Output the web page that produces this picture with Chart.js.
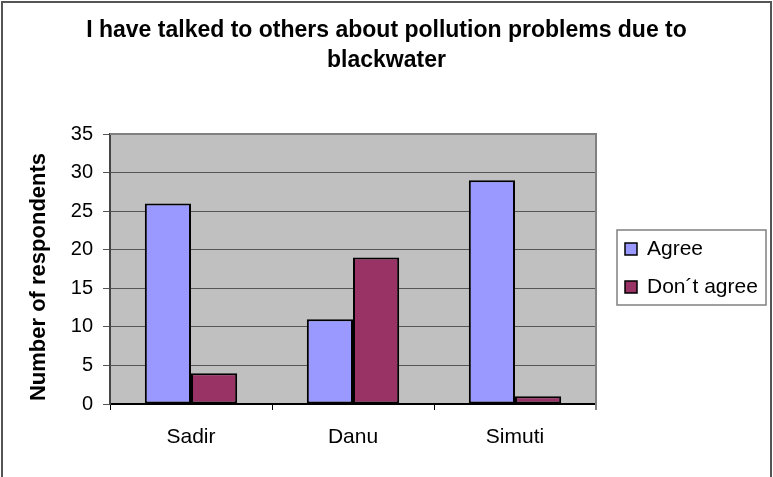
<!DOCTYPE html>
<html>
<head>
<meta charset="utf-8">
<script src="https://cdn.jsdelivr.net/npm/chart.js@4"></script>
<style>
  html, body { margin: 0; padding: 0; background: #fff; }
  #wrap { width: 773px; height: 477px; }
</style>
</head>
<body>
<div id="wrap"><canvas id="c" width="773" height="477"></canvas></div>
<script>
const categories = ['Sadir', 'Danu', 'Simuti'];
const agree = [26, 11, 29];
const dontAgree = [4, 19, 1];
const yTicks = [0, 5, 10, 15, 20, 25, 30, 35];
const seriesNames = ['Agree', 'Don\u00b4t agree'];
const titleLines = ['I have talked to others about pollution problems due to', 'blackwater'];
const yTitle = 'Number of respondents';

const FONT = '"Liberation Sans", Arial, sans-serif';
const AGREE_COLOR = '#9999FF';
const DISAGREE_COLOR = '#993366';

// Frame, plot background, titles and boxed legend
const decor = {
  id: 'decor',
  beforeDraw(chart) {
    const { ctx, chartArea: a } = chart;
    ctx.save();
    ctx.fillStyle = '#fff';
    ctx.fillRect(0, 0, chart.width, chart.height);
    ctx.fillStyle = '#C0C0C0';
    ctx.fillRect(a.left, a.top, a.right - a.left, a.bottom - a.top);
    // outer frame (left, top, right)
    ctx.strokeStyle = '#555';
    ctx.lineWidth = 2;
    ctx.beginPath();
    ctx.moveTo(2, chart.height);
    ctx.lineTo(2, 2);
    ctx.lineTo(chart.width - 2, 2);
    ctx.lineTo(chart.width - 2, chart.height);
    ctx.stroke();
    ctx.restore();
  },
  beforeDatasetsDraw(chart) {
    const { ctx, chartArea: a } = chart;
    ctx.save();
    ctx.strokeStyle = '#808080';
    ctx.lineWidth = 2;
    ctx.beginPath();
    ctx.moveTo(a.left, a.top);
    ctx.lineTo(a.right, a.top);
    ctx.lineTo(a.right, a.bottom + 6);
    ctx.stroke();
    ctx.restore();
  },
  afterDraw(chart) {
    const { ctx } = chart;
    ctx.save();
    ctx.fillStyle = '#000';
    ctx.textBaseline = 'middle';

    // chart title
    ctx.font = 'bold 23px ' + FONT;
    ctx.textAlign = 'center';
    titleLines.forEach((t, i) => ctx.fillText(t, chart.width / 2, 31 + i * 30));

    // value axis title
    ctx.save();
    ctx.translate(39, 277);
    ctx.rotate(-Math.PI / 2);
    ctx.font = 'bold 22px ' + FONT;
    ctx.fillText(yTitle, 0, 0);
    ctx.restore();

    // legend
    const bx = 617, by = 230, bw = 149, bh = 75;
    ctx.strokeStyle = '#808080';
    ctx.lineWidth = 1.5;
    ctx.strokeRect(bx, by, bw, bh);
    ctx.font = '21px ' + FONT;
    ctx.textAlign = 'left';
    chart.data.datasets.forEach((ds, i) => {
      const cy = by + 19 + i * 38;
      ctx.fillStyle = ds.backgroundColor;
      ctx.fillRect(bx + 8, cy - 6, 12, 12);
      ctx.strokeStyle = '#000';
      ctx.lineWidth = 1.5;
      ctx.strokeRect(bx + 8, cy - 6, 12, 12);
      ctx.fillStyle = '#000';
      ctx.fillText(ds.label, bx + 30, cy);
    });
    ctx.restore();
  }
};

new Chart(document.getElementById('c'), {
  type: 'bar',
  data: {
    labels: categories,
    datasets: [
      { label: seriesNames[0], data: agree, backgroundColor: AGREE_COLOR },
      { label: seriesNames[1], data: dontAgree, backgroundColor: DISAGREE_COLOR }
    ]
  },
  options: {
    responsive: false,
    animation: false,
    devicePixelRatio: 1,
    layout: { padding: { left: 0, top: 134, right: 177, bottom: 0 } },
    datasets: {
      bar: {
        borderColor: '#000',
        borderWidth: 2,
        borderSkipped: false,
        categoryPercentage: 0.57,
        barPercentage: 1
      }
    },
    plugins: {
      legend: { display: false },
      title: { display: false },
      tooltip: { enabled: false }
    },
    scales: {
      x: {
        grid: {
          offset: true,
          drawOnChartArea: false,
          drawTicks: true,
          tickLength: 6,
          color: '#000'
        },
        border: { color: '#000', width: 2 },
        ticks: { color: '#000', font: { family: FONT, size: 21 }, padding: 15 },
        afterFit(s) { s.height = 73; }
      },
      y: {
        min: 0,
        max: 35,
        afterBuildTicks(s) { s.ticks = yTicks.map(v => ({ value: v })); },
        grid: { color: '#555', lineWidth: 1, tickLength: 7, drawTicks: true },
        border: { color: '#444', width: 2 },
        ticks: { color: '#000', font: { family: FONT, size: 20 }, padding: 10 },
        afterFit(s) { s.width = 110; }
      }
    }
  },
  plugins: [decor]
});
</script>
</body>
</html>
